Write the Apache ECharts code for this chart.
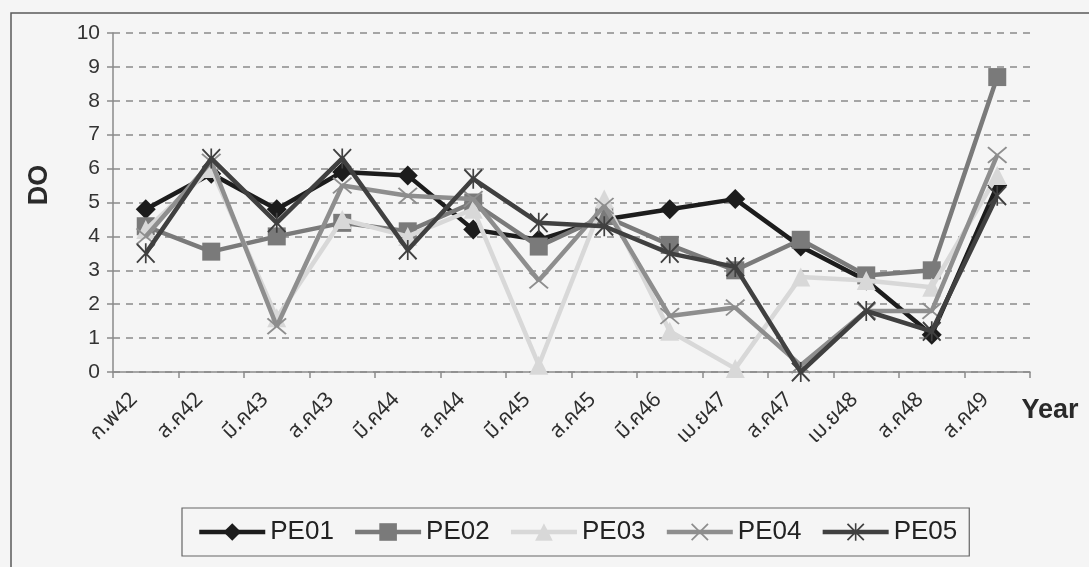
<!DOCTYPE html>
<html>
<head>
<meta charset="utf-8">
<script src="https://cdn.jsdelivr.net/npm/echarts@6/dist/echarts.min.js"></script>
<style>
  html, body { margin: 0; padding: 0; background: #f5f5f5; }
  #chart { width: 1089px; height: 567px; }
</style>
</head>
<body>
<div id="chart"></div>
<script>
// Sampling dates (Thai month abbreviations, Buddhist-era years)
const categories = ['ก.พ42', 'ส.ค42', 'มี.ค43', 'ส.ค43', 'มี.ค44', 'ส.ค44', 'มี.ค45',
  'ส.ค45', 'มี.ค46', 'เม.ย47', 'ส.ค47', 'เม.ย48', 'ส.ค48', 'ส.ค49'];

// Dissolved oxygen (DO) at each station
const pe01 = [4.8, 5.85, 4.8, 5.9, 5.8, 4.2, 3.9, 4.5, 4.8, 5.1, 3.7, 2.7, 1.1, 5.5];
const pe02 = [4.3, 3.55, 4.0, 4.4, 4.15, 5.0, 3.7, 4.6, 3.75, 3.0, 3.9, 2.85, 3.0, 8.7];
const pe03 = [4.2, 6.0, 1.6, 4.5, 4.0, 4.8, 0.2, 5.1, 1.2, 0.1, 2.8, 2.7, 2.5, 5.8];
const pe04 = [4.0, 6.2, 1.35, 5.5, 5.2, 5.1, 2.7, 4.9, 1.65, 1.9, 0.2, 1.8, 1.8, 6.4];
const pe05 = [3.5, 6.3, 4.4, 6.3, 3.6, 5.7, 4.4, 4.3, 3.5, 3.1, 0.0, 1.8, 1.2, 5.2];

const seriesNames = ['PE01', 'PE02', 'PE03', 'PE04', 'PE05'];

// Marker shapes: thin "x" and an asterisk (x plus vertical bar)
const crossPath = 'path://M0,1.4L1.4,0L20,18.6L18.6,20Z M18.6,0L20,1.4L1.4,20L0,18.6Z';
const starPath = 'path://M0,1.4L1.4,0L20,18.6L18.6,20Z M18.6,0L20,1.4L1.4,20L0,18.6Z M9.1,0L10.9,0L10.9,20L9.1,20Z';

const styles = [
  { color: '#1c1c1c', symbol: 'diamond', size: 20 },
  { color: '#7a7a7a', symbol: 'rect', size: 18 },
  { color: '#d8d8d8', symbol: 'triangle', size: 19 },
  { color: '#8e8e8e', symbol: crossPath, size: [20, 17] },
  { color: '#404040', symbol: starPath, size: [19, 20] }
];
const values = [pe01, pe02, pe03, pe04, pe05];

const font = '"Liberation Sans", Arial, sans-serif';

const chart = echarts.init(document.getElementById('chart'), null, { renderer: 'canvas' });

chart.setOption({
  backgroundColor: '#f5f5f5',
  animation: false,
  grid: { left: 113, right: 59, top: 33, bottom: 195, containLabel: false },
  xAxis: {
    type: 'category',
    data: categories,
    boundaryGap: true,
    axisLine: { show: true, lineStyle: { color: '#8a8a8a', width: 1.5 } },
    axisTick: { show: true, length: 6, lineStyle: { color: '#8a8a8a', width: 1.5 } },
    axisLabel: {
      interval: 0,
      rotate: 45,
      margin: 15,
      padding: [0, 15, 0, 0],
      color: '#2e2e2e',
      fontSize: 21,
      fontFamily: '"Noto Sans Thai", Tahoma, "Noto Sans", "DejaVu Sans", sans-serif'
    },
    splitLine: { show: false }
  },
  yAxis: {
    type: 'value',
    min: 0,
    max: 10,
    interval: 1,
    axisLine: { show: true, lineStyle: { color: '#8a8a8a', width: 1.5 } },
    axisTick: { show: true, length: 6, lineStyle: { color: '#8a8a8a', width: 1.5 } },
    axisLabel: { color: '#333', fontSize: 21, fontFamily: font, margin: 13 },
    splitLine: { show: true, lineStyle: { color: '#8a8a8a', width: 1.5, type: [7, 6] } }
  },
  legend: {
    data: seriesNames,
    left: 182,
    top: 508,
    orient: 'horizontal',
    itemWidth: 66,
    itemHeight: 22,
    itemGap: 19,
    padding: [11, 12, 11, 15],
    borderColor: '#666',
    borderWidth: 1.2,
    lineStyle: { width: 4.5 },
    textStyle: { color: '#222', fontSize: 26, fontFamily: font }
  },
  series: seriesNames.map((name, i) => ({
    name: name,
    type: 'line',
    data: values[i],
    symbol: styles[i].symbol,
    symbolSize: styles[i].size,
    showAllSymbol: true,
    color: styles[i].color,
    lineStyle: { color: styles[i].color, width: 4.5 },
    itemStyle: { color: styles[i].color },
    emphasis: { disabled: true },
    z: 2 + i
  })),
  graphic: [
    {
      type: 'rect',
      shape: { x: 11, y: 13, width: 1200, height: 700 },
      style: { fill: 'none', stroke: '#5a5a5a', lineWidth: 1.5 },
      silent: true
    },
    {
      type: 'text',
      x: 40,
      y: 185,
      rotation: Math.PI / 2,
      style: {
        text: 'DO',
        fill: '#2a2a2a',
        font: 'bold 27px "Liberation Sans", Arial, sans-serif',
        textAlign: 'center',
        textVerticalAlign: 'middle'
      }
    },
    {
      type: 'text',
      x: 1050,
      y: 411,
      style: {
        text: 'Year',
        fill: '#2a2a2a',
        font: 'bold 27px "Liberation Sans", Arial, sans-serif',
        textAlign: 'center',
        textVerticalAlign: 'middle'
      }
    }
  ]
});
</script>
</body>
</html>
